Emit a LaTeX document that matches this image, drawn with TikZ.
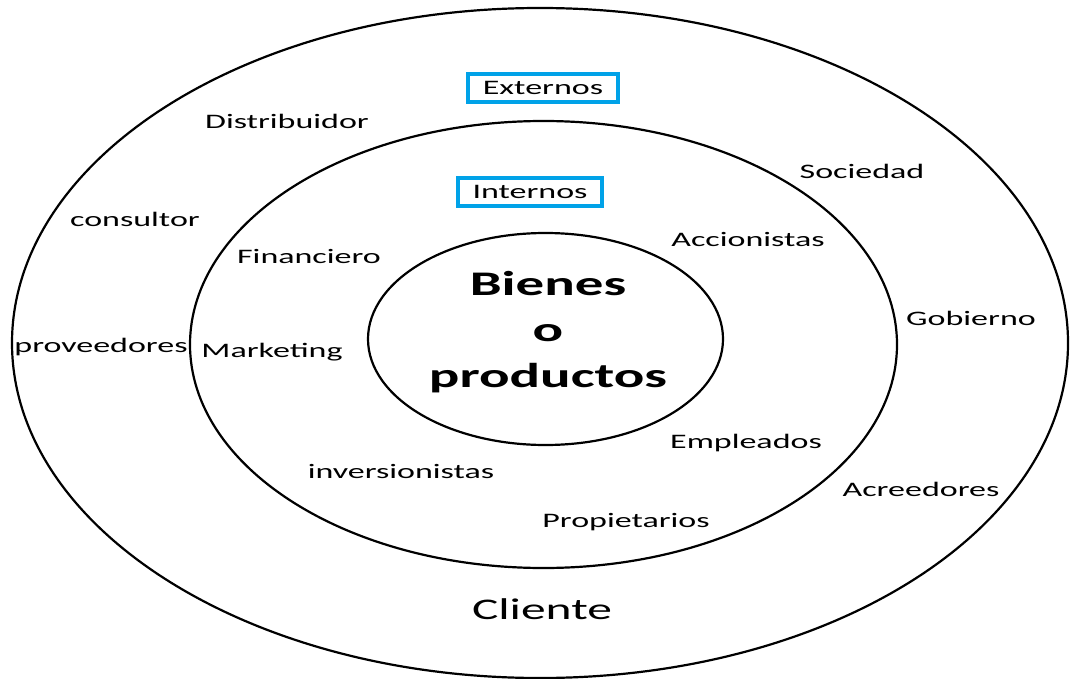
\documentclass[tikz,border=0pt]{standalone}
\usepackage{fontspec}
\setmainfont[FakeStretch=1.65]{Carlito}
\definecolor{tagblue}{RGB}{0,162,232}
\begin{document}
\begin{tikzpicture}[x=1pt,y=-1pt,
    ring/.style={line width=2.2pt},
    lbl/.style={font=\fontsize{20.6}{24}\selectfont,text height=14pt,text depth=5pt,inner sep=0pt},
    tag/.style={lbl,text depth=1pt,draw=tagblue,line width=4pt,inner xsep=14.5pt,minimum height=28pt}]
  \useasboundingbox (0,0) rectangle (1070,679);
  % the three rings
  \draw[ring] (540,343) ellipse (528 and 335);
  \draw[ring] (543.5,344.5) ellipse (353.5 and 223.5);
  \draw[ring] (545.5,339) ellipse (177.5 and 106);
  % centre
  \node[align=center,font=\fontsize{34.5}{46}\selectfont\bfseries] (core) at (548,332) {Bienes\\o\\productos};
  % headings
  \node[tag] (ext) at (543,88) {Externos};
  \node[tag] (int) at (530,192) {Internos};
  % outer ring
  \node[lbl] (dist) at (287,124) {Distribuidor};
  \node[lbl] (soc) at (862,174) {Sociedad};
  \node[lbl] (cons) at (135,222) {consultor};
  \node[lbl] (prov) at (101,348) {proveedores};
  \node[lbl] (gob) at (971,321) {Gobierno};
  \node[lbl] (acr) at (921,492) {Acreedores};
  \node[font=\fontsize{30}{34}\selectfont] (cli) at (542,609) {Cliente};
  % inner ring
  \node[lbl] (fin) at (309,259) {Financiero};
  \node[lbl] (acc) at (748,242) {Accionistas};
  \node[lbl] (mkt) at (272,353) {Marketing};
  \node[lbl] (emp) at (746,444) {Empleados};
  \node[lbl] (inv) at (401,474) {inversionistas};
  \node[lbl] (prop) at (626,523) {Propietarios};
\end{tikzpicture}
\end{document}
